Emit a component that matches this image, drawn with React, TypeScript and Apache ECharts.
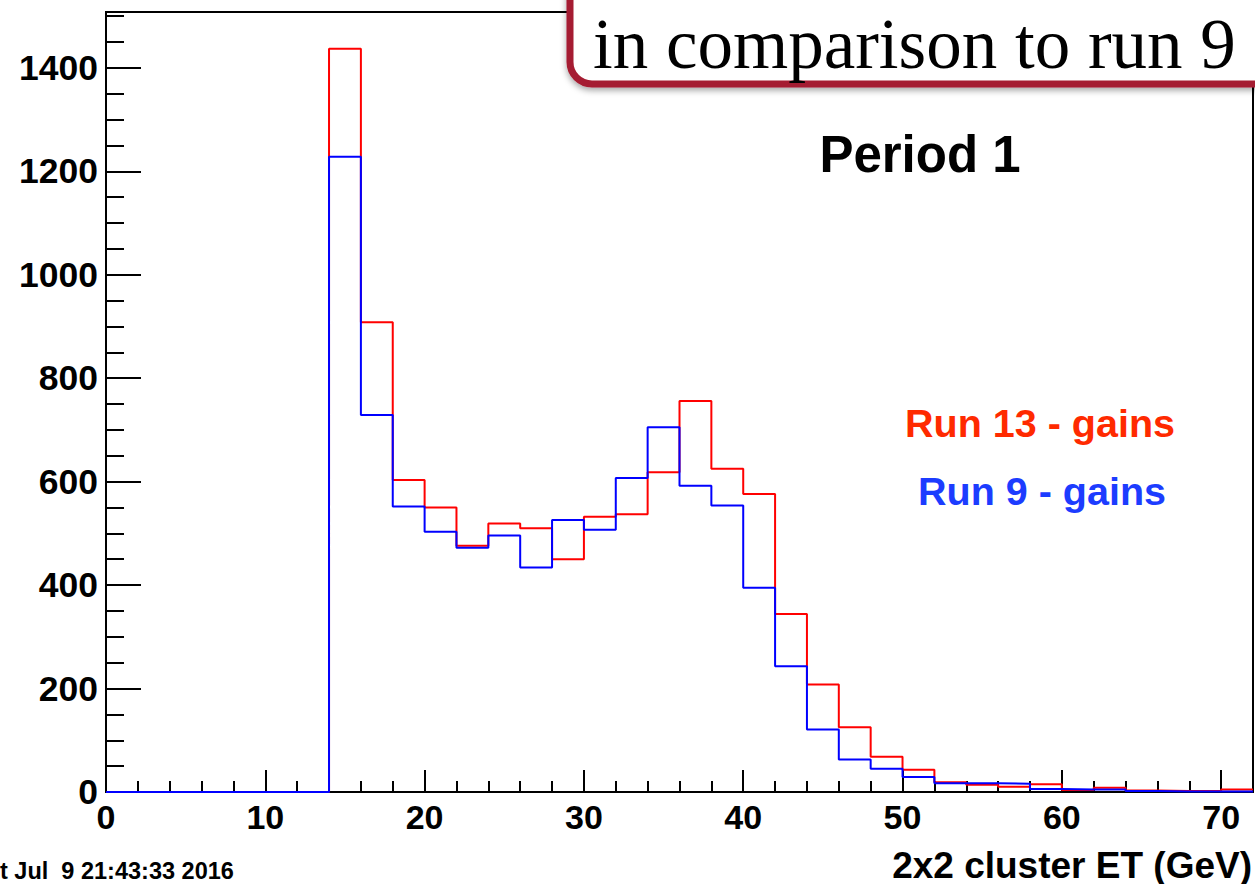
import React, { useEffect, useRef } from "react";
import * as echarts from "echarts";

// Bin low edges (GeV), bin width 2, upper edge of last bin = 72
const binLow = [0, 2, 4, 6, 8, 10, 12, 14, 16, 18, 20, 22, 24, 26, 28, 30, 32, 34, 36, 38, 40, 42, 44, 46, 48, 50, 52, 54, 56, 58, 60, 62, 64, 66, 68, 70];
const xEnd = 72;

// Run 13 - gains (red)
const run13 = [0, 0, 0, 0, 0, 0, 0, 1437, 908, 603, 550, 476, 519, 510, 450, 532, 537, 618, 756, 625, 576, 344, 208, 125, 68, 43, 19, 14, 10, 15, 4, 8, 3, 2, 2, 5];
// Run 9 - gains (blue)
const run9 = [0, 0, 0, 0, 0, 0, 0, 1228, 729, 552, 503, 472, 496, 434, 526, 507, 607, 705, 592, 554, 395, 243, 121, 63, 45, 29, 17, 17, 16, 6, 5, 5, 2, 1, 1, 1];

const yMax = 1508;
const seriesNames = ["Run 13 - gains", "Run 9 - gains"];
const title = "Period 1";
const xTitle = "2x2 cluster ET (GeV)";
const dateText = "t Jul  9 21:43:33 2016";
const overlayText = "in comparison to run 9 gains";

function stepData(vals: number[]) {
  const d = binLow.map((x, i) => [x, vals[i]]);
  d.push([xEnd, vals[vals.length - 1]]);
  return d;
}

const SANS = "'Liberation Sans', Arial, Helvetica, sans-serif";

export default function App() {
  const ref = useRef<HTMLDivElement>(null);
  useEffect(() => {
    document.body.style.margin = "0";
    const chart = echarts.init(ref.current!, null, { renderer: "svg" });
    const labelStyle = {
      fontFamily: SANS,
      fontWeight: "bold" as const,
      color: "#000",
      formatter: (v: number) => String(v),
    };
    chart.setOption({
      animation: false,
      backgroundColor: "#fff",
      grid: {
        left: 106,
        top: 12,
        right: 2,
        bottom: 92,
        show: true,
        borderColor: "#000",
        borderWidth: 2,
        backgroundColor: "transparent",
        outerBoundsMode: "none",
      },
      xAxis: [
        {
          type: "value",
          min: 0,
          max: xEnd,
          interval: 10,
          axisLine: { show: true, lineStyle: { color: "#000", width: 2 } },
          axisTick: { show: true, inside: true, length: 22, lineStyle: { color: "#000", width: 2 } },
          axisLabel: { ...labelStyle, fontSize: 34, margin: 8, showMaxLabel: false },
          splitLine: { show: false },
        },
        {
          type: "value",
          min: 0,
          max: xEnd,
          interval: 2,
          position: "bottom",
          axisLine: { show: false },
          axisTick: { show: true, inside: true, length: 11, lineStyle: { color: "#000", width: 2 } },
          axisLabel: { show: false },
          splitLine: { show: false },
        },
      ],
      yAxis: [
        {
          type: "value",
          min: 0,
          max: yMax,
          interval: 200,
          axisLine: { show: true, lineStyle: { color: "#000", width: 2 } },
          axisTick: { show: true, inside: true, length: 35, lineStyle: { color: "#000", width: 2 } },
          axisLabel: { ...labelStyle, fontSize: 35.5, margin: 8, showMaxLabel: false },
          splitLine: { show: false },
        },
        {
          type: "value",
          min: 0,
          max: yMax,
          interval: 50,
          position: "left",
          axisLine: { show: false },
          axisTick: { show: true, inside: true, length: 18, lineStyle: { color: "#000", width: 2 } },
          axisLabel: { show: false },
          splitLine: { show: false },
        },
      ],
      series: [
        {
          name: seriesNames[0],
          type: "line",
          step: "end",
          symbol: "none",
          xAxisIndex: 0,
          yAxisIndex: 0,
          data: stepData(run13),
          lineStyle: { color: "#ff0000", width: 2 },
          z: 3,
        },
        {
          name: seriesNames[1],
          type: "line",
          step: "end",
          symbol: "none",
          xAxisIndex: 0,
          yAxisIndex: 0,
          data: stepData(run9),
          lineStyle: { color: "#0000ff", width: 2 },
          z: 4,
        },
      ],
      graphic: [
        {
          type: "text",
          x: 920,
          y: 154,
          z: 10,
          style: { text: title, font: `bold 51px ${SANS}`, fill: "#000", textAlign: "center", textVerticalAlign: "middle" },
        },
        {
          type: "text",
          x: 1040,
          y: 423,
          z: 10,
          style: { text: seriesNames[0], font: `bold 39.5px ${SANS}`, fill: "#ff2a00", textAlign: "center", textVerticalAlign: "middle" },
        },
        {
          type: "text",
          x: 1042,
          y: 491,
          z: 10,
          style: { text: seriesNames[1], font: `bold 39.5px ${SANS}`, fill: "#1c3cff", textAlign: "center", textVerticalAlign: "middle" },
        },
        {
          type: "text",
          x: 1252,
          y: 865,
          z: 10,
          style: { text: xTitle, font: `bold 37px ${SANS}`, fill: "#000", textAlign: "right", textVerticalAlign: "middle" },
        },
        {
          type: "text",
          x: 0,
          y: 871,
          z: 10,
          style: { text: dateText, font: `bold 23.5px ${SANS}`, fill: "#000", textAlign: "left", textVerticalAlign: "middle" },
        },
        {
          type: "rect",
          z: 20,
          shape: { x: 570, y: -40, width: 900, height: 124, r: 22 },
          style: {
            fill: "#fff",
            stroke: "#a51c30",
            lineWidth: 7,
            shadowBlur: 6,
            shadowColor: "rgba(0,0,0,0.35)",
            shadowOffsetY: 3,
          },
        },
        {
          type: "text",
          x: 593,
          y: 44,
          z: 21,
          style: { text: overlayText, font: `71px 'Liberation Serif', 'Times New Roman', serif`, fill: "#000", textAlign: "left", textVerticalAlign: "middle" },
        },
      ],
    });
    return () => chart.dispose();
  }, []);
  return <div ref={ref} style={{ width: 1255, height: 884 }} />;
}
